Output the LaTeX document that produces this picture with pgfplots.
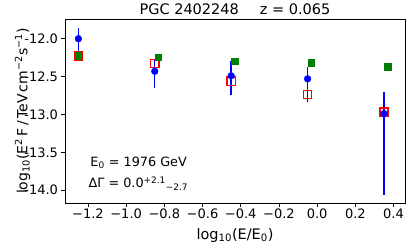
\documentclass[border=0pt]{standalone}
\usepackage{fontspec}
\setmainfont{DejaVu Sans}
\usepackage{pgfplots}
\pgfplotsset{compat=1.18}
\usetikzlibrary{calc}
\begin{document}
\begin{tikzpicture}[font=\fontsize{12.8bp}{15bp}\selectfont]
\begin{axis}[
  name=ax,
  scale only axis,
  width=340bp, height=184bp,
  xmin=-1.32, xmax=0.46,
  ymin=-14.17, ymax=-11.74,
  xtick={-1.2,-1.0,-0.8,-0.6,-0.4,-0.2,0.0,0.2,0.4},
  xticklabels={−1.2,−1.0,−0.8,−0.6,−0.4,−0.2,0.0,0.2,0.4},
  ytick={-14,-13.5,-13,-12.5,-12},
  yticklabels={-14.0,-13.5,-13.0,-12.5,-12.0},
  tick align=outside,
  xtick pos=bottom, ytick pos=left,
  major tick length=3.5bp,
  every tick/.style={black, line width=0.6pt},
  axis line style={line width=0.8pt},
  tick label style={font=\fontsize{13bp}{15bp}\selectfont},
  xticklabel style={yshift=1bp},
  xlabel={log\textsubscript{10}(E/E\textsubscript{0})},
  ylabel={log\textsubscript{10}(E\textsuperscript{2}\,F\,/\,TeV\,cm\textsuperscript{−2}s\textsuperscript{−1})},
  xlabel style={at={(axis description cs:0.5,-0.175)}, anchor=center, font=\fontsize{14.5bp}{16bp}\selectfont},
  ylabel style={at={(axis description cs:-0.125,0.5)}, anchor=center, font=\fontsize{14bp}{16bp}\selectfont},
  clip=false,
]
\addplot[only marks, mark=square, mark size=4.1bp, mark options={draw=red, line width=1.3pt}]
 coordinates {(-1.25,-12.23) (-0.85,-12.33) (-0.45,-12.56) (-0.05,-12.74) (0.35,-12.97)};
\addplot[only marks, mark=square*, mark size=3.3bp, mark options={draw={rgb,255:red,0;green,128;blue,0}, fill={rgb,255:red,0;green,128;blue,0}, line width=0pt}]
 coordinates {(-1.25,-12.23) (-0.83,-12.25) (-0.43,-12.30) (-0.03,-12.32) (0.37,-12.37)};
\addplot[only marks, mark=*, mark size=3.4bp, mark options={draw=blue, fill=blue},
  error bars/.cd, y dir=both, y explicit, error mark=none,
  error bar style={blue, line width=1.4pt}]
 coordinates {
  (-1.25,-12.00) += (0,0.14) -= (0,0.22)
  (-0.85,-12.43) += (0,0.15) -= (0,0.22)
  (-0.45,-12.49) += (0,0.19) -= (0,0.25)
  (-0.05,-12.53) += (0,0.16) -= (0,0.31)
  (0.35,-12.99) += (0,0.28) -= (0,1.08)
 };
\node[anchor=west] at (axis cs:-1.205,-13.64) {E\textsubscript{0} = 1976 GeV};
\node[anchor=west] at (axis cs:-1.215,-13.91) {ΔΓ = 0.0\textsuperscript{+2.1}\textsubscript{−2.7}};
\node[anchor=base, inner sep=0pt, yshift=4bp, font=\fontsize{14.5bp}{16bp}\selectfont] at (rel axis cs:0.5,1) {PGC 2402248\hspace{1.45em}z = 0.065};
\end{axis}
\pgfresetboundingbox
\useasboundingbox ($(ax.south west)+(-65bp,-44bp)$) rectangle ($(ax.south west)+(350bp,203bp)$);
\end{tikzpicture}
\end{document}
